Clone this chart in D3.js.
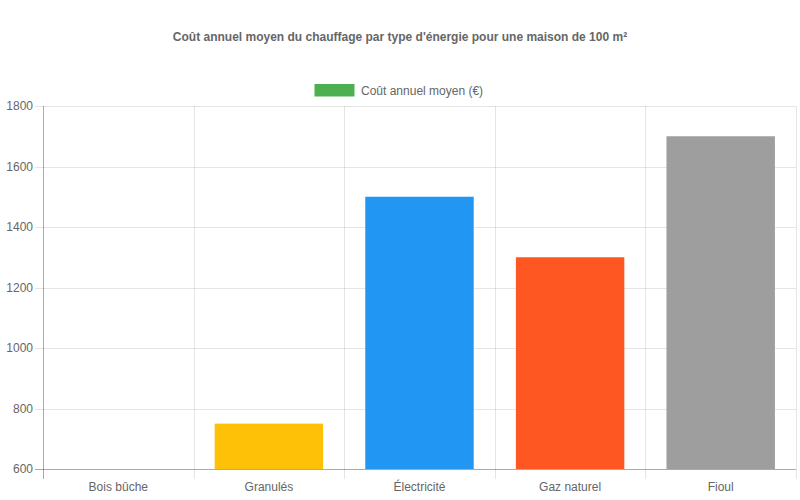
<!DOCTYPE html>
<html><head><meta charset="utf-8">
<script src="https://cdn.jsdelivr.net/npm/d3@7"></script>
<style>body{margin:0;background:#fff}svg{display:block}text{font-family:"Liberation Sans",Arial,sans-serif}</style>
</head><body>
<svg id="c" width="800" height="500"></svg>
<script>
const categories = ["Bois bûche","Granulés","Électricité","Gaz naturel","Fioul"];
const values = [500, 750, 1500, 1300, 1700];
const colors = ["#4CAF50","#FFC107","#2196F3","#FF5722","#9E9E9E"];
const yTicks = [600, 800, 1000, 1200, 1400, 1600, 1800];
const seriesName = "Coût annuel moyen (€)";
const title = "Coût annuel moyen du chauffage par type d'énergie pour une maison de 100 m²";

const svg = d3.select("#c");
const L = 43, R = 796, T = 106, B = 469;
const x = d3.scaleBand().domain(categories).range([L, R]).paddingInner(0).paddingOuter(0);
const y = d3.scaleLinear().domain([600, 1800]).range([B, T]);

svg.append("text").attr("x", 400).attr("y", 41).attr("text-anchor", "middle")
  .attr("font-size", 12).attr("font-weight", "bold").attr("fill", "#666").text(title);

// legend
svg.append("rect").attr("x", 315).attr("y", 84.5).attr("width", 39).attr("height", 11.5)
  .attr("fill", colors[0]).attr("stroke", colors[0]).attr("stroke-width", 1);
svg.append("text").attr("x", 361).attr("y", 94.5).attr("font-size", 12).attr("fill", "#666").text(seriesName);

// gridlines
const g = svg.append("g");
g.selectAll(".hg").data(yTicks).join("line")
  .attr("x1", L - 8).attr("x2", R).attr("y1", d => Math.round(y(d)) + 0.5).attr("y2", d => Math.round(y(d)) + 0.5)
  .attr("stroke", "rgba(0,0,0,0.1)");
const vx = categories.map(c => x(c)).concat([R]);
g.selectAll(".vg").data(vx).join("line")
  .attr("x1", d => Math.round(d) + 0.5).attr("x2", d => Math.round(d) + 0.5).attr("y1", T).attr("y2", B + 10)
  .attr("stroke", "rgba(0,0,0,0.1)");

// bars
svg.append("clipPath").attr("id", "clip").append("rect").attr("x", L).attr("y", T).attr("width", R - L).attr("height", B - T);
const bw = x.bandwidth() * 0.72;
svg.append("g").attr("clip-path", "url(#clip)").selectAll("rect").data(categories).join("rect")
  .attr("x", d => x(d) + (x.bandwidth() - bw) / 2)
  .attr("width", bw)
  .attr("y", (d, i) => Math.min(y(values[i]), y(600)))
  .attr("height", (d, i) => Math.abs(y(600) - y(values[i])))
  .attr("fill", (d, i) => colors[i]);

// axes lines
svg.append("line").attr("x1", L + 0.5).attr("x2", L + 0.5).attr("y1", T).attr("y2", B + 10).attr("stroke", "rgba(0,0,0,0.25)");
svg.append("line").attr("x1", L - 8).attr("x2", R).attr("y1", B + 0.5).attr("y2", B + 0.5).attr("stroke", "rgba(0,0,0,0.25)");

// y labels
svg.selectAll(".yl").data(yTicks).join("text")
  .attr("x", L - 10).attr("y", d => y(d) + 4).attr("text-anchor", "end")
  .attr("font-size", 12).attr("fill", "#666").text(d => d);

// x labels
svg.selectAll(".xl").data(categories).join("text")
  .attr("x", d => x(d) + x.bandwidth() / 2).attr("y", 491).attr("text-anchor", "middle")
  .attr("font-size", 12).attr("fill", "#666").text(d => d);
</script>
</body></html>
